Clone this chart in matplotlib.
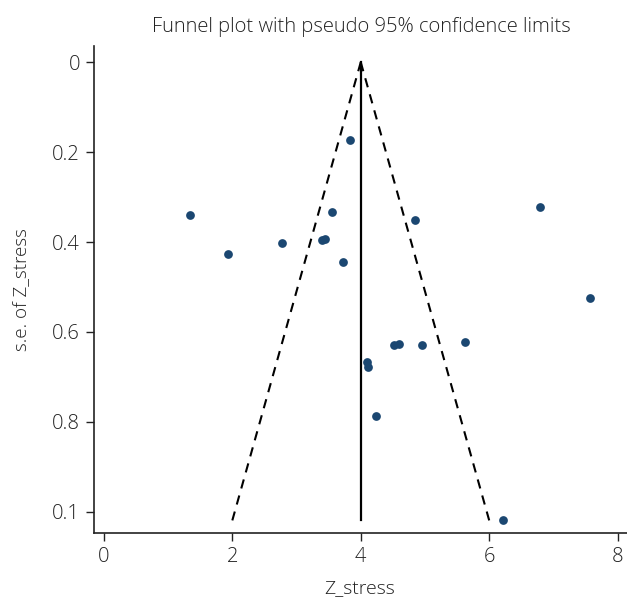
import numpy as np
import matplotlib
matplotlib.use("Agg")
import matplotlib.pyplot as plt

# study estimates
z_stress = [3.83, 1.34, 3.56, 4.85, 6.78, 2.77, 3.39, 3.44, 1.93, 3.73,
            7.57, 4.51, 4.60, 4.96, 5.62, 4.10, 4.12, 4.24, 6.21]
se_z = [0.173, 0.340, 0.333, 0.351, 0.322, 0.401, 0.396, 0.393, 0.427, 0.444,
        0.524, 0.630, 0.626, 0.630, 0.622, 0.667, 0.677, 0.786, 1.019]
pooled = 4.0
x_ticks = [0, 2, 4, 6, 8]
y_ticks = [0, 0.2, 0.4, 0.6, 0.8, 1.0]
y_tick_labels = ["0", "0.2", "0.4", "0.6", "0.8", "0.1"]

plt.rcParams['font.family'] = ['Open Sans', 'DejaVu Sans']
plt.rcParams['font.weight'] = 'light'

W, H = 627, 601
fig = plt.figure(figsize=(W / 100, H / 100), dpi=100)
left, right, bottom, top = 94, 627, 533, 46
ax = fig.add_axes([left / W, (H - bottom) / H, (right - left) / W, (bottom - top) / H])

# funnel limits
se_max = max(se_z)
se_line = np.array([0, se_max])
ax.plot(pooled - 1.96 * se_line, se_line, color="black", lw=1.5, ls=(0, (4.5, 3.5)))
ax.plot(pooled + 1.96 * se_line, se_line, color="black", lw=1.5, ls=(0, (4.5, 3.5)))
ax.plot([pooled, pooled], se_line, color="black", lw=1.6)

ax.plot(z_stress, se_z, 'o', color="#1b4771", markersize=6.3, mec="none")

ax.set_xlim(-0.148, 8.14)
ax.set_ylim(1.047, -0.036)
ax.set_xticks(x_ticks)
ax.set_yticks(y_ticks)
ax.set_yticklabels(y_tick_labels)
ax.tick_params(axis='both', labelsize=14.5, length=6, width=1.0, color="#222222",
               labelcolor="#222222", pad=4)
for s in ["top", "right"]:
    ax.spines[s].set_visible(False)
for s in ["left", "bottom"]:
    ax.spines[s].set_linewidth(1.2)
    ax.spines[s].set_color("#222222")

fig.text(361 / W, 1 - 27 / H, "Funnel plot with pseudo 95% confidence limits",
         ha="center", va="center", fontsize=14.5, color="#222222")
fig.text(360 / W, 1 - 588 / H, "Z_stress", ha="center", va="center",
         fontsize=14, color="#222222")
fig.text(21 / W, 1 - 290 / H, "s.e. of Z_stress", ha="center", va="center",
         rotation=90, fontsize=13.5, color="#222222")

fig.savefig("out.png", dpi=100)
